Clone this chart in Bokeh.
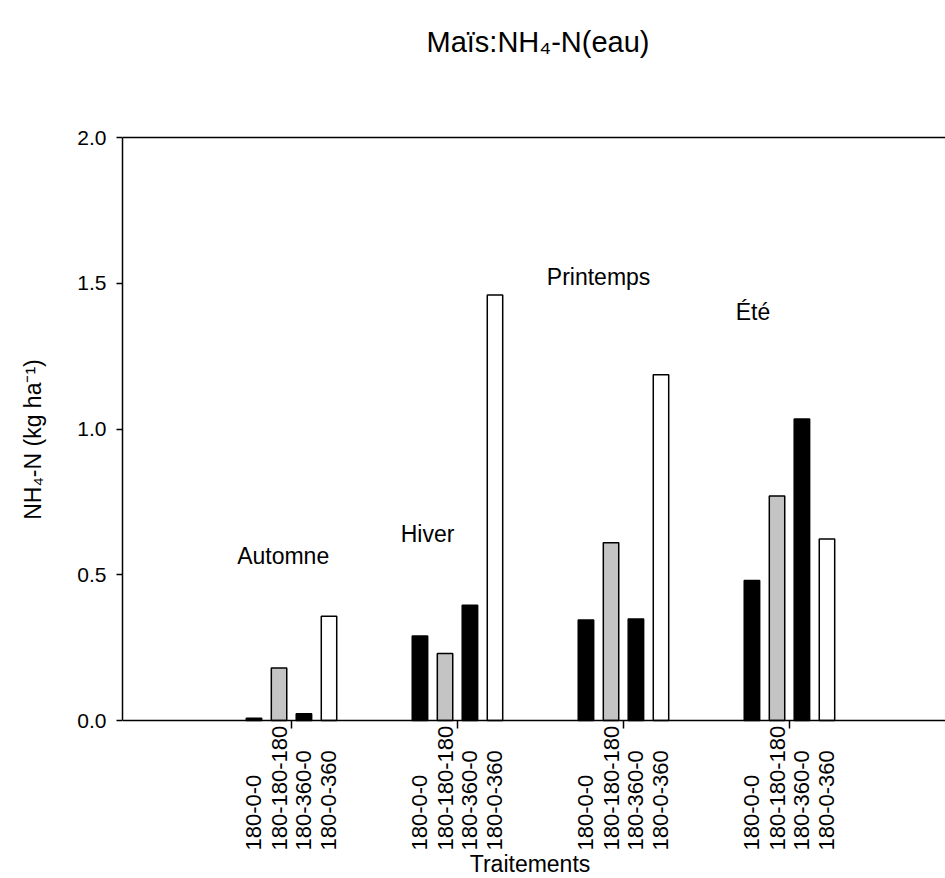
import numpy as np
from bokeh.plotting import figure
from bokeh.models import (Range1d, FixedTicker, LinearAxis, ColumnDataSource,
                          LabelSet, Label)
from bokeh.core.properties import value
from bokeh.transform import dodge
from bokeh.embed import file_html
from bokeh.resources import INLINE

# ---- data ----
seasons = ["Automne", "Hiver", "Printemps", "Été"]
treatments = ["180-0-0", "180-180-180", "180-360-0", "180-0-360"]
v_180_0_0 = [0.008, 0.29, 0.345, 0.48]
v_180_180_180 = [0.18, 0.23, 0.61, 0.77]
v_180_360_0 = [0.023, 0.395, 0.348, 1.034]
v_180_0_360 = [0.358, 1.46, 1.186, 0.623]
y_ticks = [0.0, 0.5, 1.0, 1.5, 2.0]
season_label_x = [-0.05, 0.82, 1.85, 2.78]
season_label_y = [0.566, 0.64, 1.52, 1.40]

series = [v_180_0_0, v_180_180_180, v_180_360_0, v_180_0_360]
fills = ["black", "#c4c4c4", "black", "white"]
offsets = [-0.226, -0.075, 0.075, 0.226]
FONT = "Liberation Sans"
LABEL_Y = -0.446      # bottom of the rotated treatment labels (data units)

g = list(range(len(seasons)))
data = {"g": g, "ly": [LABEL_Y] * len(seasons)}
for t, vals in zip(treatments, series):
    data[t] = vals
    data["lab_" + t] = [t] * len(seasons)
src = ColumnDataSource(data)

p = figure(width=945, height=878, output_backend="svg", toolbar_location=None,
           x_range=Range1d(-1.018, 3.94), y_range=Range1d(-0.542, 2.470),
           x_axis_location=None, y_axis_location="left",
           min_border_left=122, min_border_right=0, min_border_top=0,
           min_border_bottom=0)
p.outline_line_color = None
p.grid.visible = False
p.background_fill_color = "white"
p.border_fill_color = "white"

for t, fc, off in zip(treatments, fills, offsets):
    p.vbar(x=dodge("g", off), top=t, width=0.093, bottom=0, source=src,
           fill_color=fc, line_color="black", line_width=1.5)
    p.add_layout(LabelSet(x=dodge("g", off), y="ly", text="lab_" + t, source=src,
                          angle=np.pi / 2, text_align="left", text_baseline="middle",
                          text_font=value(FONT), text_font_size="22px",
                          text_color="black"))

# season labels
ssrc = ColumnDataSource(dict(x=season_label_x, y=season_label_y, t=seasons))
p.add_layout(LabelSet(x="x", y="y", text="t", source=ssrc, text_align="center",
                      text_baseline="middle", text_font=value(FONT),
                      text_font_size="23px", text_color="black"))

# x axis at y = 0
xa = LinearAxis(fixed_location=0, ticker=FixedTicker(ticks=g),
                major_label_overrides={i: "" for i in g},
                major_label_text_font_size="0px",
                major_tick_out=8, major_tick_in=0, major_tick_line_width=1.5,
                minor_tick_line_color=None, axis_line_width=1.5)
p.add_layout(xa, "below")

# top border line at y = 2
top = LinearAxis(fixed_location=2.0, ticker=FixedTicker(ticks=[]),
                 axis_line_width=1.5, major_tick_line_color=None,
                 minor_tick_line_color=None, major_label_text_font_size="0px")
p.add_layout(top, "above")

# y axis
ya = p.yaxis[0]
ya.bounds = (0, 2.0)
ya.ticker = FixedTicker(ticks=y_ticks)
ya.major_label_overrides = {v: f"{v:.1f}" for v in y_ticks}
ya.major_label_text_font = FONT
ya.major_label_text_font_size = "21px"
ya.major_label_text_color = "black"
ya.major_label_standoff = 10
ya.major_tick_out = 6
ya.major_tick_in = 0
ya.minor_tick_line_color = None
ya.axis_line_width = 1.5
ya.major_tick_line_width = 1.5
ya.axis_label = "NH₄-N (kg ha⁻¹)"
ya.axis_label_text_font = FONT
ya.axis_label_text_font_size = "23px"
ya.axis_label_text_font_style = "normal"
ya.axis_label_text_color = "black"
ya.axis_label_standoff = 28

# title and x label
p.add_layout(Label(x=1.485, y=2.326, text="Maïs:NH₄-N(eau)", text_align="center",
                   text_baseline="alphabetic", text_font=FONT, text_font_size="29px",
                   text_color="black"))
p.add_layout(Label(x=1.437, y=-0.538, text="Traitements", text_align="center",
                   text_baseline="bottom", text_font=FONT, text_font_size="23px",
                   text_color="black"))

open("out.html", "w").write(file_html(p, INLINE))
